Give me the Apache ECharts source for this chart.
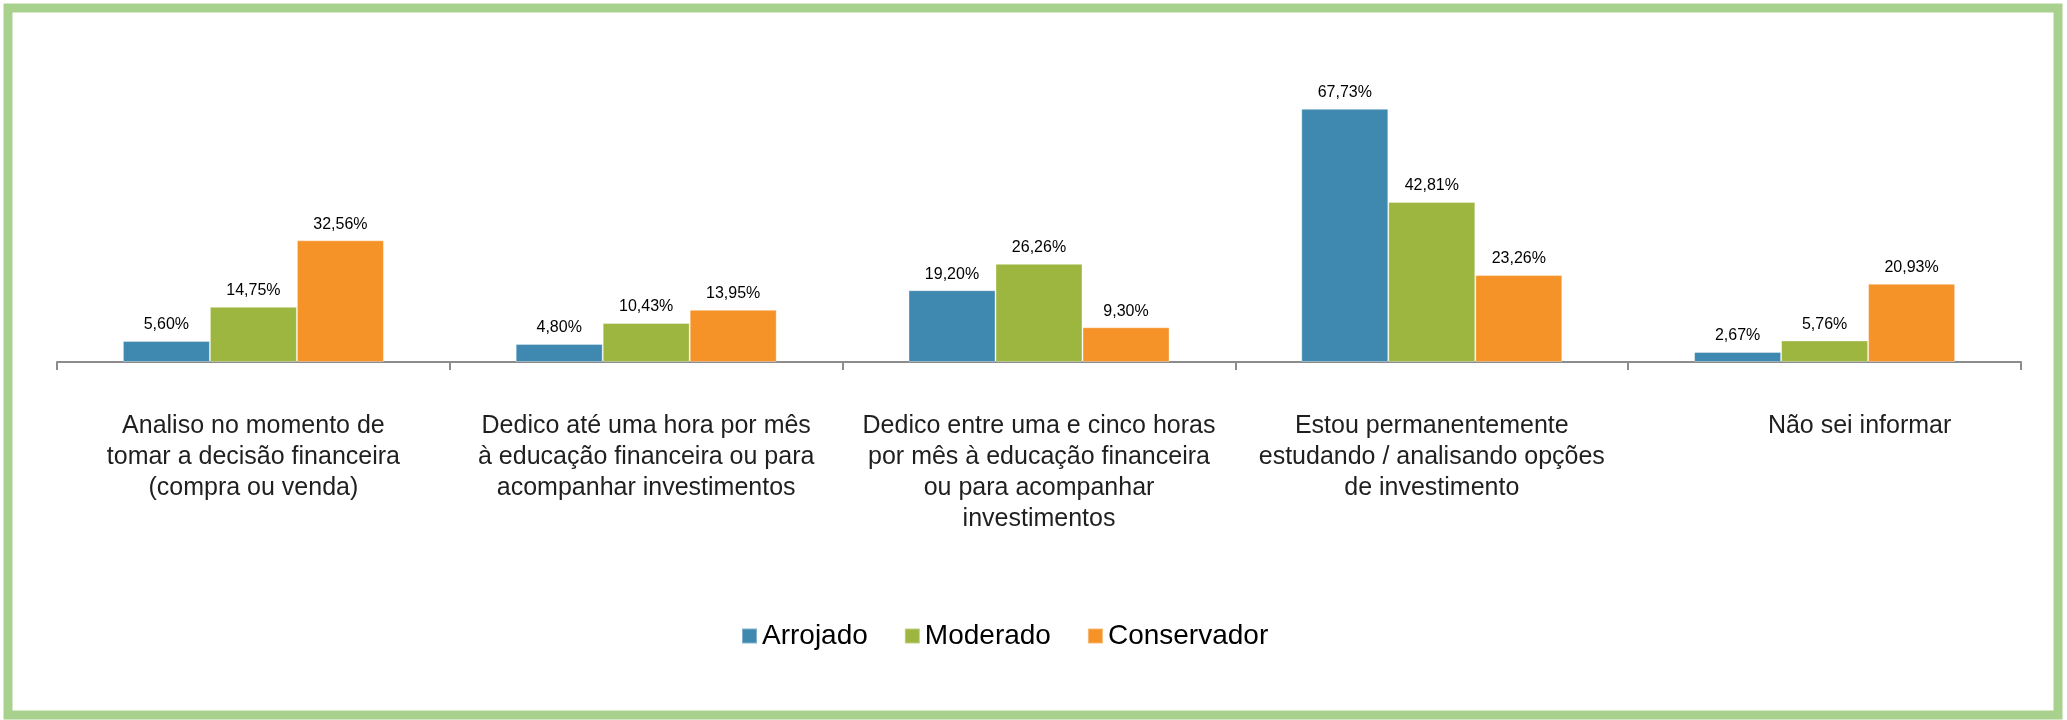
<!DOCTYPE html>
<html>
<head>
<meta charset="utf-8">
<script src="https://cdn.jsdelivr.net/npm/echarts@6/dist/echarts.min.js"></script>
<style>
  html, body { margin: 0; padding: 0; background: #fff; }
  #chart { width: 2067px; height: 720px; }
</style>
</head>
<body>
<div id="chart"></div>
<script>
// categorias (rótulos já quebrados em linhas como no original)
var categorias = [
  'Analiso no momento de\ntomar a decisão financeira\n(compra ou venda)',
  'Dedico até uma hora por mês\nà educação financeira ou para\nacompanhar investimentos',
  'Dedico entre uma e cinco horas\npor mês à educação financeira\nou para acompanhar\ninvestimentos',
  'Estou permanentemente\nestudando / analisando opções\nde investimento',
  'Não sei informar'
];
var arrojado    = [5.60, 4.80, 19.20, 67.73, 2.67];
var moderado    = [14.75, 10.43, 26.26, 42.81, 5.76];
var conservador = [32.56, 13.95, 9.30, 23.26, 20.93];

var cores = ['#3F88B0', '#9DB63F', '#F59328'];

var myChart = echarts.init(document.getElementById('chart'));

function rotulo(p) {
  return p.value.toFixed(2).replace('.', ',') + '%';
}

function serie(nome, dados, cor) {
  return {
    name: nome,
    type: 'bar',
    data: dados,
    barWidth: 87,
    barGap: '0%',
    itemStyle: { color: cor, borderColor: 'rgba(255,255,255,0.35)', borderWidth: 1 },
    label: {
      show: true,
      position: 'top',
      distance: 8,
      formatter: rotulo,
      fontFamily: 'Liberation Sans',
      fontSize: 16,
      color: '#000'
    }
  };
}

// no original o último rótulo fica um pouco deslocado para a direita
var catItens = categorias.map(function (c, i) {
  if (i == categorias.length - 1) {
    return { value: c, textStyle: { padding: [0, 0, 0, 70] } };
  }
  return c;
});

var option = {
  animation: false,
  textStyle: { fontFamily: 'Liberation Sans' },
  graphic: [{
    type: 'rect',
    shape: { x: 8, y: 8, width: 2050, height: 707 },
    style: { fill: 'none', stroke: '#A9D18E', lineWidth: 9 },
    silent: true
  }],
  grid: { left: 57, right: 46, top: 63, bottom: 358 },
  legend: {
    data: ['Arrojado', 'Moderado', 'Conservador'],
    left: 741,
    top: 622,
    padding: 0,
    icon: 'rect',
    itemWidth: 15,
    itemHeight: 15,
    itemGap: 36,
    textStyle: { fontFamily: 'Liberation Sans', fontSize: 28, color: '#000' }
  },
  xAxis: {
    type: 'category',
    data: catItens,
    axisLine: { lineStyle: { color: '#8C8C8C', width: 2 } },
    axisTick: { show: true, length: 8, lineStyle: { color: '#8C8C8C', width: 2 } },
    axisLabel: {
      interval: 0,
      margin: 49,
      fontFamily: 'Liberation Sans',
      fontSize: 25,
      lineHeight: 31,
      color: '#1F1F1F',
      align: 'center'
    }
  },
  yAxis: {
    type: 'value',
    min: 0,
    max: 80,
    show: false,
    splitLine: { show: false }
  },
  series: [
    serie('Arrojado', arrojado, cores[0]),
    serie('Moderado', moderado, cores[1]),
    serie('Conservador', conservador, cores[2])
  ]
};

myChart.setOption(option);
</script>
</body>
</html>
